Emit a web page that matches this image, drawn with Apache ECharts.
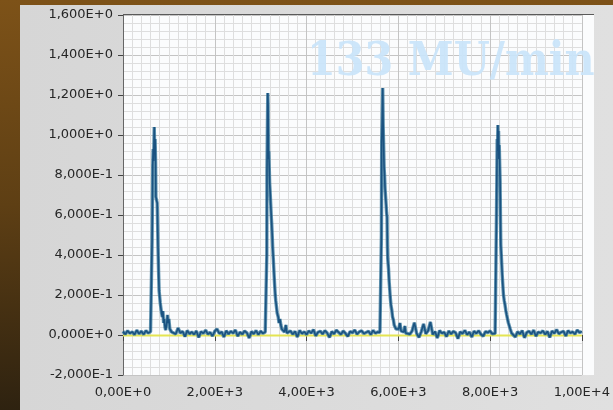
<!DOCTYPE html>
<html>
<head>
<meta charset="utf-8">
<script src="https://cdn.jsdelivr.net/npm/echarts@6/dist/echarts.min.js"></script>
<style>
html,body{margin:0;padding:0;width:613px;height:410px;overflow:hidden;}
body{background:linear-gradient(to bottom,#7d5218 0%,#5e3f14 50%,#2e2210 100%);position:relative;}
#panel{position:absolute;left:20px;top:5px;width:593px;height:405px;background:linear-gradient(to right,#d6d6d6,#e0e0e0);}
#plotbg{position:absolute;left:123px;top:14px;width:471px;height:361px;background:#fbfcfd;border-top:1.5px solid #5a5a5a;box-sizing:border-box;}
#c{position:absolute;left:0;top:0;width:613px;height:410px;z-index:1;}
#wm{position:absolute;left:307px;top:36px;z-index:2;font:bold 46px/46px "DejaVu Serif";color:#c9e4fa;opacity:0.92;white-space:nowrap;transform:scaleX(0.9);transform-origin:0 0;pointer-events:none;}
</style>
</head>
<body>
<div id="panel"></div>
<div id="plotbg"></div>
<div id="c"></div>
<div id="wm"></div>
<script>
// ---- data ----
const yTickValues = [-0.2, 0, 0.2, 0.4, 0.6, 0.8, 1.0, 1.2, 1.4, 1.6];
const yTickLabels = ['-2,000E-1','0,000E+0','2,000E-1','4,000E-1','6,000E-1','8,000E-1','1,000E+0','1,200E+0','1,400E+0','1,600E+0'];
const xTickValues = [0, 2000, 4000, 6000, 8000, 10000];
const xTickLabels = ['0,00E+0','2,00E+3','4,00E+3','6,00E+3','8,00E+3','1,00E+4'];
const watermark = '133 MU/min';

const sampleStep = 50;
// baseline segments: start x, y values sampled every sampleStep
const baseA = {start: 0, values: [0.018,0.004,0.021,0.008,0.016,0.002,0.024,0.006,0.019,0.003,0.022,0.009,0.017]};
const baseB = {start: 1100, values: [0.02,0.005,0.035,0.01,0.018,-0.008,0.022,0.006,0.015,0.003,0.02,-0.012,0.017,0.008,0.024,0.004,0.013,-0.005,0.019,0.03,0.007,0.016,-0.01,0.021,0.005,0.018,0.009,0.025,-0.006,0.014,0.004,0.02,0.011,-0.015,0.017,0.006,0.022,0.002,0.019,0.008,0.015]};
const baseC = {start: 3600, values: [0.012,0.02,0.004,0.018,-0.01,0.023,0.007,0.016,0.002,0.021,0.009,0.027,-0.004,0.014,0.019,0.005,0.022,0.01,-0.012,0.017,0.006,0.024,0.013,0.003,0.02,0.008,-0.007,0.018,0.011,0.025,0.004,0.016,0.021,0.007,0.013,0.019,0.002,0.023,0.009,0.015]};
const baseD = {start: 6200, values: [0.018,0.004,0.02,0.062,0.008,-0.012,0.016,0.055,0.006,0.021,0.065,0.003,0.017,-0.015,0.022,0.009,0.014,-0.008,0.02,0.005,0.018,0.011,-0.018,0.016,0.007,0.023,0.002,0.015,-0.01,0.019,0.008,0.021,0.004,-0.006,0.017,0.012,0.02,0.006]};
const baseE = {start: 8500, values: [0.02,-0.01,0.016,0.005,0.022,-0.014,0.013,0.019,0.004,0.024,-0.006,0.015,0.01,0.021,0.003,0.018,-0.012,0.02,0.008,0.027,0.006,0.014,0.019,-0.005,0.022,0.01,0.016,0.004,0.025,0.012,0.018]};

const peak1 = [[620,0.012],[630,0.015],[634,0.47],[648,0.85],[658,0.93],[668,0.87],[681,1.04],[690,0.93],[700,0.98],[710,0.86],[717,0.69],[730,0.7],[745,0.66],[755,0.55],[762,0.45],[775,0.32],[787,0.22],[800,0.19],[812,0.16],[823,0.14],[840,0.11],[857,0.09],[870,0.12],[885,0.06],[900,0.08],[915,0.04],[930,0.025],[950,0.05],[970,0.1],[985,0.06],[1000,0.08],[1020,0.03],[1040,0.04],[1060,0.015]];
const peak2 = [[3110,0.015],[3130,0.008],[3134,0.4],[3138,0.82],[3148,1.05],[3155,1.21],[3162,1.15],[3170,0.88],[3178,0.92],[3186,0.85],[3196,0.76],[3206,0.72],[3218,0.66],[3230,0.6],[3240,0.56],[3252,0.5],[3262,0.44],[3276,0.38],[3291,0.31],[3305,0.25],[3318,0.2],[3330,0.17],[3345,0.14],[3360,0.11],[3383,0.09],[3400,0.06],[3420,0.08],[3440,0.05],[3460,0.03],[3490,0.02],[3520,0.015],[3550,0.05],[3570,0.01]];
const peak3 = [[5600,0.014],[5628,0.01],[5632,0.5],[5638,0.96],[5650,1.1],[5660,1.235],[5670,1.05],[5680,0.95],[5690,0.84],[5700,0.8],[5712,0.73],[5725,0.72],[5735,0.65],[5745,0.61],[5755,0.59],[5762,0.45],[5770,0.38],[5787,0.33],[5800,0.27],[5812,0.23],[5824,0.19],[5840,0.15],[5858,0.125],[5875,0.09],[5894,0.075],[5910,0.05],[5930,0.06],[5950,0.03],[5970,0.04],[5990,0.02],[6010,0.03],[6036,0.06],[6060,0.02],[6090,0.03],[6120,0.015],[6143,0.045],[6160,0.01]];
const peak4 = [[8090,0.012],[8110,0.008],[8125,0.3],[8140,0.6],[8155,0.98],[8162,0.92],[8170,1.05],[8178,0.94],[8185,1.02],[8192,0.88],[8200,0.95],[8210,0.85],[8219,0.77],[8226,0.6],[8234,0.45],[8245,0.4],[8255,0.35],[8265,0.3],[8278,0.25],[8292,0.2],[8310,0.17],[8326,0.15],[8345,0.12],[8362,0.1],[8380,0.08],[8400,0.06],[8419,0.05],[8440,0.03],[8468,0.01]];
const referenceLine = [[0,-0.002],[10000,-0.002]];

// ---- build series ----
function seg(b){ return b.values.map((v,i)=>[b.start + i*sampleStep, v]); }
const signal = [].concat(seg(baseA), peak1, seg(baseB), peak2, seg(baseC), peak3, seg(baseD), peak4, seg(baseE));

function lookup(vals, labels, v){
  const i = vals.findIndex(t => Math.abs(t - v) < 1e-6);
  return i >= 0 ? labels[i] : '';
}

document.getElementById('wm').textContent = watermark;

const chart = echarts.init(document.getElementById('c'));
const labelFont = {fontFamily:'DejaVu Sans', fontSize:13, color:'#262626'};
chart.setOption({
  animation:false,
  grid:{left:123, top:15, width:471, height:360},
  xAxis:{
    type:'value', min:0, max:10000, interval:2000,
    axisLine:{show:false},
    axisTick:{show:true, length:6, lineStyle:{color:'#444'}},
    axisLabel:Object.assign({margin:11, formatter:v=>lookup(xTickValues,xTickLabels,v)}, labelFont),
    splitLine:{show:true, lineStyle:{color:'#c4c4c4', width:1}},
    minorTick:{show:true, splitNumber:10, length:0},
    minorSplitLine:{show:true, lineStyle:{color:'#dedede', width:1}}
  },
  yAxis:{
    type:'value', min:-0.2, max:1.6, interval:0.2,
    axisLine:{show:true, onZero:false, lineStyle:{color:'#666', width:1}},
    axisTick:{show:true, length:5, lineStyle:{color:'#444'}},
    axisLabel:Object.assign({margin:10, formatter:v=>lookup(yTickValues,yTickLabels,v)}, labelFont),
    splitLine:{show:true, lineStyle:{color:'#c4c4c4', width:1}},
    minorTick:{show:true, splitNumber:5, length:0},
    minorSplitLine:{show:true, lineStyle:{color:'#dedede', width:1}}
  },
  series:[
    {type:'line', data:referenceLine, showSymbol:false, z:2, lineStyle:{color:'#e4e452', width:2}},
    {type:'line', data:signal, showSymbol:false, z:3, sampling:null, lineStyle:{color:'#2f7196', width:3.4, opacity:0.75}},
    {type:'line', data:signal, showSymbol:false, z:4, sampling:null, lineStyle:{color:'#1a5280', width:1.6}}
  ]
});
</script>
</body>
</html>
